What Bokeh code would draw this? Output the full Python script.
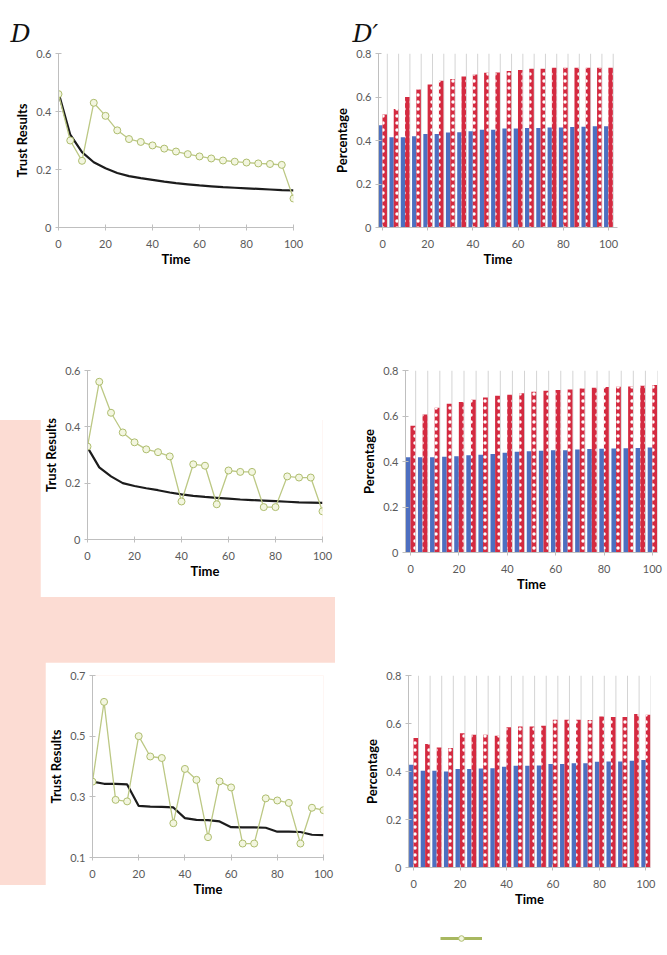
from bokeh.plotting import figure
from bokeh.models import Range1d, FixedTicker, ColumnDataSource, Spacer, Legend, LegendItem
from bokeh.layouts import column, row
from bokeh.transform import dodge
from bokeh.embed import file_html
from bokeh.resources import INLINE

# ---------------- data ----------------
times = [0, 5, 10, 15, 20, 25, 30, 35, 40, 45, 50, 55, 60, 65, 70, 75, 80, 85, 90, 95, 100]
x_ticks = [0, 20, 40, 60, 80, 100]

# panel D (line chart)
d_green = [0.46, 0.30, 0.23, 0.43, 0.385, 0.335, 0.305, 0.295, 0.283, 0.272, 0.262,
           0.253, 0.245, 0.238, 0.231, 0.227, 0.224, 0.221, 0.219, 0.216, 0.10]
d_black = [0.465, 0.32, 0.26, 0.225, 0.204, 0.188, 0.177, 0.170, 0.164, 0.158, 0.153,
           0.149, 0.145, 0.142, 0.139, 0.137, 0.135, 0.133, 0.131, 0.129, 0.128]
# panel D' (bar chart)
dp_blue = [0.47, 0.415, 0.415, 0.42, 0.43, 0.43, 0.437, 0.438, 0.442, 0.45, 0.45,
           0.455, 0.455, 0.457, 0.458, 0.46, 0.46, 0.462, 0.463, 0.465, 0.465]
dp_red = [0.52, 0.545, 0.60, 0.635, 0.658, 0.675, 0.683, 0.694, 0.704, 0.712, 0.713,
          0.72, 0.724, 0.73, 0.73, 0.735, 0.735, 0.735, 0.735, 0.735, 0.735]

# middle row
m_green = [0.33, 0.56, 0.45, 0.38, 0.345, 0.32, 0.31, 0.295, 0.135, 0.267, 0.262,
           0.125, 0.245, 0.24, 0.24, 0.115, 0.115, 0.224, 0.22, 0.22, 0.10]
m_black = [0.327, 0.256, 0.224, 0.20, 0.19, 0.182, 0.175, 0.167, 0.16, 0.155, 0.151,
           0.148, 0.145, 0.142, 0.14, 0.138, 0.136, 0.134, 0.132, 0.131, 0.13]
m_blue = [0.419, 0.419, 0.419, 0.421, 0.423, 0.428, 0.43, 0.433, 0.438, 0.443, 0.445,
          0.447, 0.449, 0.45, 0.453, 0.455, 0.456, 0.457, 0.458, 0.459, 0.461]
m_red = [0.557, 0.607, 0.636, 0.654, 0.661, 0.671, 0.681, 0.689, 0.693, 0.70, 0.707,
         0.711, 0.714, 0.717, 0.721, 0.724, 0.727, 0.729, 0.73, 0.733, 0.736]

# bottom row
b_green = [0.35, 0.613, 0.29, 0.285, 0.50, 0.433, 0.428, 0.213, 0.392, 0.356, 0.167,
           0.351, 0.331, 0.146, 0.146, 0.295, 0.288, 0.28, 0.146, 0.264, 0.256]
b_black = [0.35, 0.343, 0.343, 0.341, 0.27, 0.268, 0.267, 0.265, 0.23, 0.224, 0.223,
           0.219, 0.2, 0.199, 0.199, 0.198, 0.185, 0.185, 0.184, 0.175, 0.174]
b_blue = [0.428, 0.403, 0.403, 0.40, 0.41, 0.41, 0.412, 0.414, 0.42, 0.424, 0.424,
          0.425, 0.431, 0.431, 0.434, 0.434, 0.441, 0.442, 0.442, 0.445, 0.448]
b_red = [0.54, 0.515, 0.50, 0.498, 0.559, 0.553, 0.553, 0.549, 0.584, 0.587, 0.588,
         0.591, 0.616, 0.616, 0.616, 0.615, 0.629, 0.627, 0.627, 0.64, 0.636]

# light reference series behind the bars (drawn as thin grey lines)
cap = [0.8, 0.8, 0.8, 0.8, 0.8, 0.8, 0.8, 0.8, 0.8, 0.8, 0.8,
       0.8, 0.8, 0.8, 0.8, 0.8, 0.8, 0.8, 0.8, 0.8, 0.8]

# ---------------- styling ----------------
FONT = "Lato"
AXIS_GREY = "#bfbfbf"
GREEN_LINE = "#bcc884"
GREEN_EDGE = "#aebd6e"
GREEN_FILL = "#f3f6e0"
BLACK = "#1c1c1c"
BLUE = "#4d6fc0"
RED = "#d42a40"


def base_fig(width, height, borders, xr, yr, yticks, ylabel):
    left, right, top, bottom = borders
    p = figure(width=width, height=height, output_backend="svg", toolbar_location=None,
               x_range=xr, y_range=yr, min_border_left=left, min_border_right=right,
               min_border_top=top, min_border_bottom=bottom)
    p.outline_line_color = None
    p.grid.visible = False
    p.background_fill_color = "white"
    p.border_fill_color = "white"
    p.xaxis.ticker = FixedTicker(ticks=x_ticks)
    p.yaxis.ticker = FixedTicker(ticks=yticks)
    p.yaxis.major_label_overrides = {0: "0"}
    p.xaxis.axis_label = "Time"
    p.yaxis.axis_label = ylabel
    for ax in (p.xaxis[0], p.yaxis[0]):
        ax.axis_line_color = AXIS_GREY
        ax.major_tick_line_color = AXIS_GREY
        ax.major_tick_out = 3
        ax.major_tick_in = 3
        ax.minor_tick_line_color = None
        ax.major_label_text_font = FONT
        ax.major_label_text_font_size = "11px"
        ax.major_label_text_color = "#5a5a5a"
        ax.axis_label_text_font = FONT
        ax.axis_label_text_font_size = "13px"
        ax.axis_label_text_font_style = "bold"
        ax.axis_label_text_color = "#000000"
    p.xaxis.major_label_standoff = 9
    p.xaxis.axis_label_standoff = 0
    p.yaxis.major_label_standoff = 4
    p.yaxis.axis_label_standoff = 3
    return p


def add_title(p, text, offset):
    p.title.text = text
    p.title.text_font = "DejaVu Serif"
    p.title.text_font_style = "italic"
    p.title.text_font_size = "25px"
    p.title.text_color = "#111111"
    p.title.align = "left"
    p.title.offset = offset
    p.title.standoff = 12


def line_chart(width, height, borders, yr, yticks, green, black):
    p = base_fig(width, height, borders, Range1d(0, 100), yr, yticks, "Trust Results")
    src = ColumnDataSource(dict(t=times, g=green, k=black))
    p.line("t", "k", source=src, line_color=BLACK, line_width=2.2)
    p.line("t", "g", source=src, line_color=GREEN_LINE, line_width=1.3)
    p.scatter("t", "g", source=src, marker="circle", size=7, line_color=GREEN_EDGE,
              fill_color=GREEN_FILL, line_width=1)
    return p


def bar_chart(width, height, borders, xr, blue, red):
    p = base_fig(width, height, borders, xr, Range1d(0, 0.8), [0, 0.2, 0.4, 0.6, 0.8], "Percentage")
    src = ColumnDataSource(dict(t=times, b=blue, r=red, c=cap, z=[0] * len(times)))
    p.segment(x0=dodge("t", 2.1, range=p.x_range), y0="z",
              x1=dodge("t", 2.1, range=p.x_range), y1="c",
              source=src, line_color="#d4d4d4", line_width=1)
    p.vbar(x=dodge("t", -1.0, range=p.x_range), top="b", width=1.9, source=src,
           fill_color=BLUE, line_color=None)
    p.vbar(x=dodge("t", 0.95, range=p.x_range), top="r", width=2.0, source=src,
           fill_color=RED, line_color=None, hatch_pattern="dot",
           hatch_color="white", hatch_scale=7, hatch_weight=2)
    return p


# top row
p_d = line_chart(330, 280, (58, 37, 53, 50), Range1d(0, 0.6), [0, 0.2, 0.4, 0.6], d_green, d_black)
add_title(p_d, "D", -48)
p_dp = bar_chart(337, 280, (48, 50, 52, 53), Range1d(-1.8, 104), dp_blue, dp_red)
add_title(p_dp, "D\u2032", -26)

# middle row
p_ml = line_chart(295, 242, (42, 13, 15, 44), Range1d(0, 0.6), [0, 0.2, 0.4, 0.6], m_green, m_black)
p_mr = bar_chart(312, 255, (50, 10, 10, 58), Range1d(-2.1, 102.1), m_blue, m_red)

# bottom row
p_bl = line_chart(290, 253, (40, 12, 13, 45), Range1d(0.1, 0.7), [0.1, 0.3, 0.5, 0.7], b_green, b_black)
p_br = bar_chart(312, 263, (53, 17, 13, 58), Range1d(-2.2, 102), b_blue, b_red)

# legend sample (series key: the green line with circle markers)
lg = figure(width=70, height=26, output_backend="svg", toolbar_location=None,
            x_range=Range1d(-1000, -999), y_range=Range1d(0, 1), min_border=0,
            x_axis_location=None, y_axis_location=None)
lg.outline_line_color = None
lg.grid.visible = False
lg.background_fill_alpha = 0
lg.border_fill_alpha = 0
key_src = ColumnDataSource(dict(t=times, g=b_green))
r1 = lg.line("t", "g", source=key_src, line_color="#a8b860", line_width=3)
r2 = lg.scatter("t", "g", source=key_src, marker="circle", size=8, line_color=GREEN_EDGE,
                fill_color=GREEN_FILL)
leg = Legend(items=[LegendItem(label="\u00a0", renderers=[r1, r2])], location="center",
             border_line_color=None, background_fill_alpha=0, glyph_width=42,
             glyph_height=14, padding=0, margin=0, label_standoff=0,
             label_text_font_size="6px")
lg.add_layout(leg)

layout = column(
    row(p_d, p_dp),
    Spacer(width=667, height=75),
    row(Spacer(width=40, height=255), p_ml, Spacer(width=20, height=255), p_mr),
    Spacer(width=667, height=52),
    row(Spacer(width=45, height=263), p_bl, Spacer(width=20, height=263), p_br),
    row(Spacer(width=436, height=26), lg),
    styles={
        "background-image": "linear-gradient(#fcdcd3, #fcdcd3)",
        "background-repeat": "no-repeat",
        "background-size": "335px 465px",
        "background-position": "0px 420px",
    },
)

open("out.html", "w").write(file_html(layout, INLINE))
